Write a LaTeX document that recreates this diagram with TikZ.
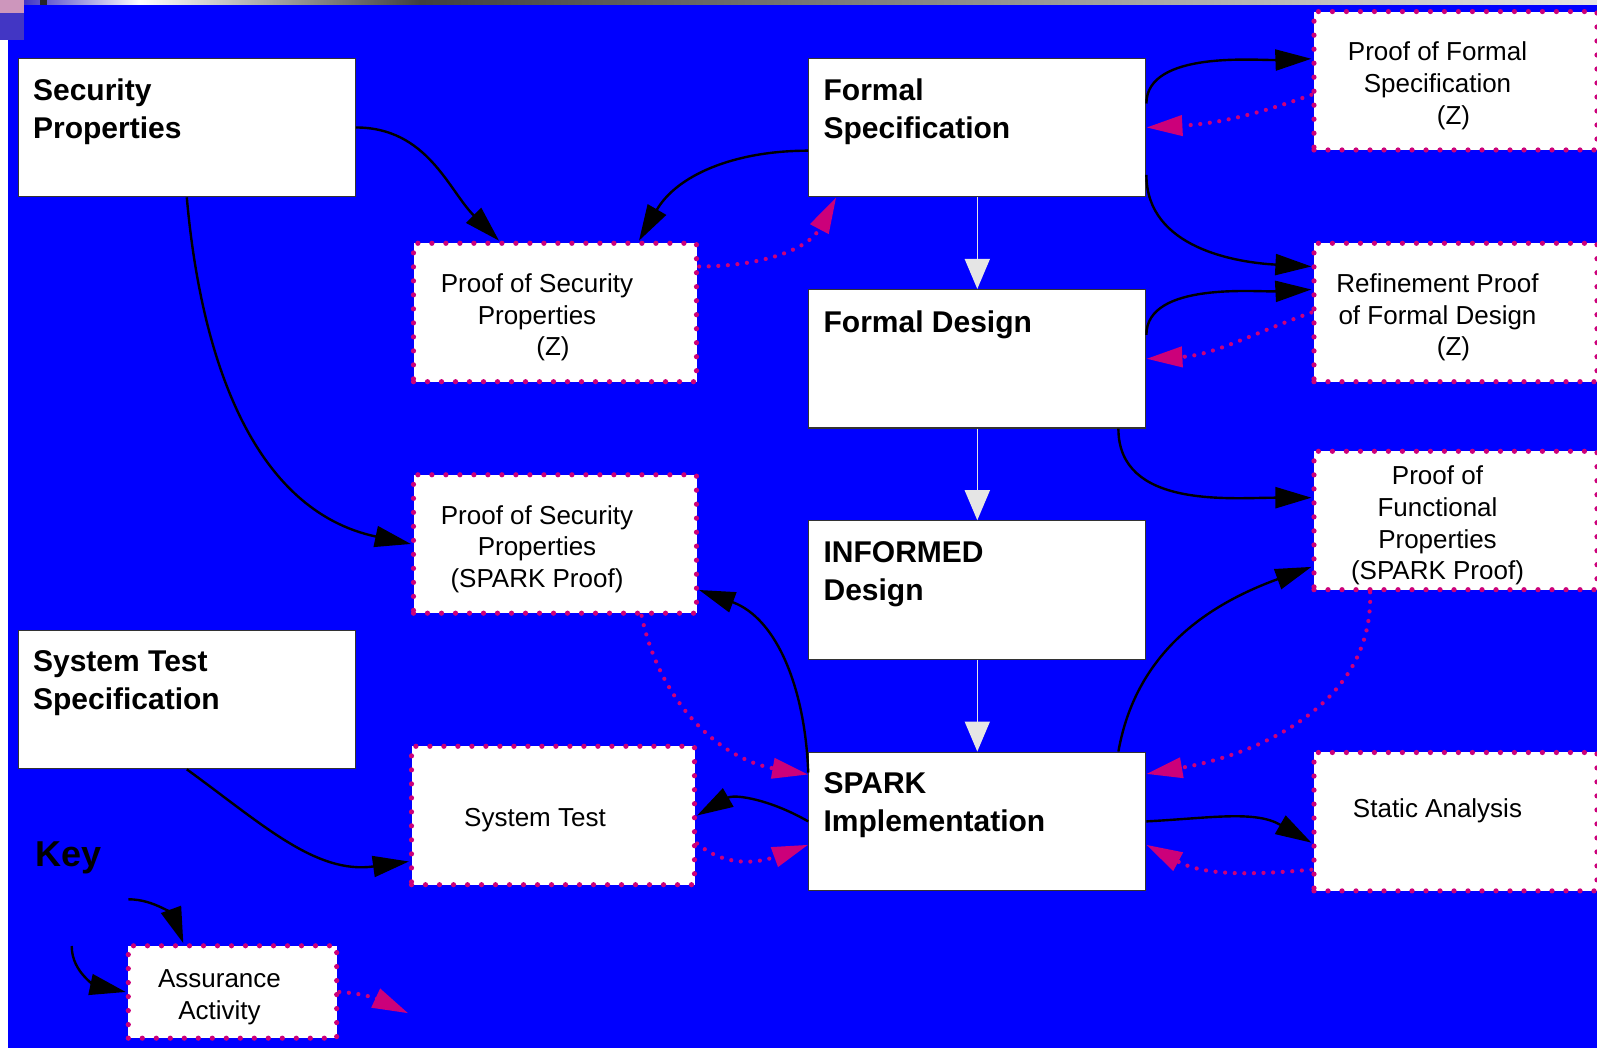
\documentclass[tikz,border=0pt]{standalone}
\usepackage{fontspec}
\setmainfont{Liberation Sans}
\usepackage{tikz}
\usetikzlibrary{positioning,arrows.meta}
\definecolor{slideblue}{RGB}{0,0,255}
\definecolor{proofpink}{RGB}{204,0,122}
\definecolor{cornerpink}{RGB}{205,150,188}
\definecolor{cornerblue}{RGB}{66,54,196}

\begin{document}
\begin{tikzpicture}[
		x=0.5pt, y=0.5pt,
		node distance=45.8pt,
		mainbox/.style={fill=white, draw=black!80, line width=0.6pt,
			minimum width=168.5pt, minimum height=69.25pt, inner sep=0pt},
		titletext/.style={anchor=north west, align=left, inner sep=0pt,
			xshift=7.5pt, yshift=-10.5pt, font=\fontsize{15}{19}\selectfont\bfseries},
		proofbox/.style={fill=white, draw=proofpink, line width=2.6pt,
			dash pattern=on 0pt off 7pt, line cap=round,
			minimum width=141.5pt, minimum height=69.2pt, inner sep=0pt},
		prooftext/.style={anchor=center, align=center, inner sep=0pt,
			xshift=-9pt, yshift=-2.5pt, font=\fontsize{13}{15.8}\selectfont},
		flow/.style={line width=1.2pt, -{Triangle[length=18pt,width=10.5pt]}},
		feedback/.style={proofpink, line width=2.1pt, dash pattern=on 0pt off 4.8pt,
			line cap=round, -{Triangle[length=18pt,width=10pt]}},
		descend/.style={black!10, line width=0.8pt, -{Triangle[length=15pt,width=12.5pt]}}
	]
	\useasboundingbox (0,0) rectangle (1597,1048);
	\fill[white] (0,0) rectangle (1597,1048);
	\fill[slideblue] (8,0) rectangle (1597,1043);
	\shade[left color=cornerblue, right color=white] (24,1043) rectangle (140,1048);
	\shade[left color=white, right color=black!75] (140,1043) rectangle (420,1048);
	\shade[left color=black!75, right color=black!10] (420,1043) rectangle (1597,1048);
	\fill[cornerpink] (0,1035) rectangle (24,1048);
	\fill[cornerblue] (0,1008) rectangle (24,1035);
	\fill[black!85] (40,1043) rectangle (47,1048);
	
	\node(secprop)[mainbox, label={[titletext]north west:Security\\Properties}] at (186.8,920.5) {};
	\node(stspec)[mainbox, label={[titletext]north west:System Test\\Specification}] at (186.8,348.5) {};
	
	\node(fspec)[mainbox, label={[titletext]north west:Formal\\Specification}] at (977.3,920.5) {};
	\node(fdesign)[mainbox, below=of fspec, label={[titletext]north west:Formal Design}] {};
	\node(informed)[mainbox, below=of fdesign, label={[titletext]north west:INFORMED\\Design}] {};
	\node(spark)[mainbox, below=of informed, label={[titletext]north west:SPARK\\Implementation}] {};
	
	\node(proofz)[proofbox, label={[prooftext]center:Proof of Security\\Properties\\\hspace*{16pt}(Z)}] at (555,735.5) {};
	\node(proofspark)[proofbox, label={[prooftext]center:Proof of Security\\Properties\\(SPARK Proof)}] at (555,504) {};
	\node(systest)[proofbox, label={[prooftext]center:System Test}] at (553,232.5) {};
	
	\node(pfspec)[proofbox, label={[prooftext]center:Proof of Formal\\Specification\\\hspace*{16pt}(Z)}] at (1455.5,967.2) {};
	\node(refine)[proofbox, label={[prooftext]center:Refinement Proof\\of Formal Design\\\hspace*{16pt}(Z)}] at (1455.5,735.5) {};
	\node(funcprop)[proofbox, label={[prooftext]center:Proof of\\Functional\\Properties\\(SPARK Proof)}] at (1455.5,527.5) {};
	\node(static)[proofbox, label={[prooftext, yshift=8pt]center:Static Analysis}] at (1455.5,226.3) {};
	
	\node(key)[anchor=base west, inner sep=0pt, font=\fontsize{18}{22}\selectfont\bfseries] at (35,181.3) {Key};
	\node(assure)[proofbox, minimum width=104.2pt, minimum height=46.2pt,
		label={[prooftext, xshift=2.5pt]center:Assurance\\Activity}] at (232.5,56) {};
	\coordinate (keyA) at (128.3,148.7);
	\coordinate (keyB) at (71.7,102);
	\coordinate (keyC) at (408.3,34.7);
	
	\draw[descend] (fspec) -- (fdesign);
	\draw[descend] (fdesign) -- (informed);
	\draw[descend] (informed) -- (spark);
	
	\draw[flow] (secprop.east) to[out=0, in=135] ([xshift=-28pt]proofz.north);
	\draw[flow] (secprop.south) to[out=-85, in=168] (proofspark.west);
	\draw[flow] ([yshift=-11.6pt]fspec.west) to[out=180, in=60] ([xshift=42pt]proofz.north);
	\draw[feedback] ([yshift=23pt]proofz.east) to[out=0, in=-118] ([xshift=14pt]fspec.south west);
	
	\draw[flow] ([yshift=12pt]fspec.east) to[out=90, in=182, looseness=0.8] ([yshift=11pt]pfspec.west);
	\draw[feedback] ([yshift=-7pt]pfspec.west) to[out=200, in=3] (fspec.east);
	\draw[flow] ([yshift=-23.7pt]fspec.east) to[out=-90, in=177] ([yshift=23pt]refine.west);
	\draw[flow] ([yshift=12pt]fdesign.east) to[out=90, in=183, looseness=0.8] ([yshift=11.5pt]refine.west);
	\draw[feedback] (refine.west) to[out=200, in=3] (fdesign.east);
	\draw[flow] ([xshift=-14pt]fdesign.south east) to[out=-90, in=180] ([yshift=11.4pt]funcprop.west);
	\draw[flow] ([xshift=-14pt]spark.north east) to[out=80, in=-160] ([yshift=-23.2pt]funcprop.west);
	\draw[feedback] ([xshift=-42.7pt]funcprop.south) to[out=-88, in=10] ([yshift=23.7pt]spark.east);
	\draw[flow] (spark.east) to[out=3, in=150] ([yshift=-10.5pt]static.west);
	\draw[feedback] ([yshift=-24pt]static.west) to[out=185, in=-28] ([yshift=-11.7pt]spark.east);
	
	\draw[flow] ([yshift=-10.5pt]spark.north west) to[out=92, in=-20] ([yshift=-23pt]proofspark.east);
	\draw[feedback] ([xshift=43.3pt]proofspark.south) to[out=-78, in=170] ([yshift=-11.5pt]spark.north west);
	\draw[flow] (spark.west) to[out=150, in=30] (systest.east);
	\draw[feedback] ([yshift=-14pt]systest.east) to[out=-40, in=200] ([yshift=-11.7pt]spark.west);
	\draw[flow] (stspec.south) to[out=-36, in=188] ([yshift=-23pt]systest.west);
	
	\draw[flow] (keyA) to[out=0, in=110] ([xshift=-24.6pt]assure.north);
	\draw[flow] (keyB) to[out=-90, in=168] (assure.west);
	\draw[feedback] (assure.east) to[out=-3, in=155] (keyC);
\end{tikzpicture}
\end{document}
